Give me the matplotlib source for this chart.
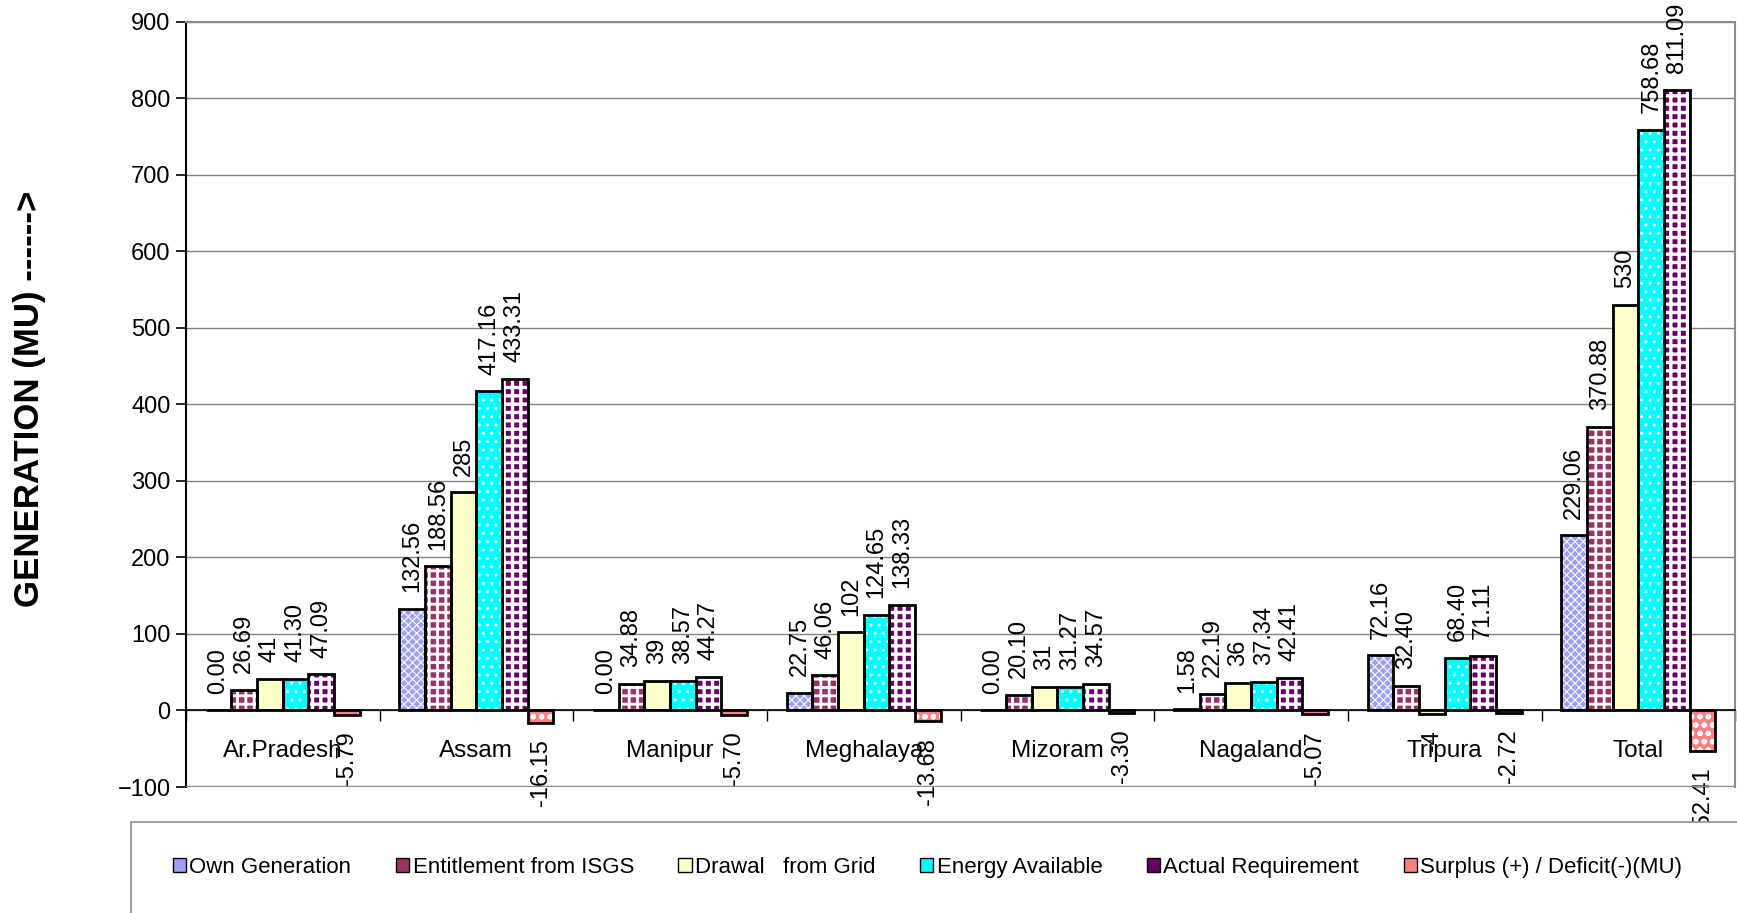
import numpy as np
import matplotlib.pyplot as plt
from matplotlib.patches import Patch, Rectangle

plt.rcParams['font.family'] = ['Liberation Sans', 'DejaVu Sans']

# =============================================
# Data (MU)
# =============================================
states = ['Ar.Pradesh', 'Assam', 'Manipur', 'Meghalaya', 'Mizoram', 'Nagaland', 'Tripura', 'Total']
own_gen = [0.00, 132.56, 0.00, 22.75, 0.00, 1.58, 72.16, 229.06]
entitlement = [26.69, 188.56, 34.88, 46.06, 20.10, 22.19, 32.40, 370.88]
drawal = [41, 285, 39, 102, 31, 36, -4, 530]
energy_avail = [41.30, 417.16, 38.57, 124.65, 31.27, 37.34, 68.40, 758.68]
actual_req = [47.09, 433.31, 44.27, 138.33, 34.57, 42.41, 71.11, 811.09]
surplus = [-5.79, -16.15, -5.70, -13.68, -3.30, -5.07, -2.72, -52.41]

series_names = ['Own Generation', 'Entitlement from ISGS', 'Drawal   from Grid',
                'Energy Available', 'Actual Requirement', 'Surplus (+) / Deficit(-)(MU)']
series_vals = [own_gen, entitlement, drawal, energy_avail, actual_req, surplus]
label_fmts = ['{:.2f}', '{:.2f}', '{:g}', '{:.2f}', '{:.2f}', '{:.2f}']

# face colour, hatch, hatch line width (white hatch)
styles = [('#9f9ff8', 'xxxx', 0.8),
          ('#993366', '++', 2.0),
          ('#ffffcc', None, 1.0),
          ('#00ffff', '..', 1.0),
          ('#660066', '++', 2.4),
          ('#ff8080', 'oo', 1.5)]

# =============================================
# Plot
# =============================================
fig = plt.figure(figsize=(17.37, 9.13), dpi=100)
ax = fig.add_axes([0.107, 0.138, 0.892, 0.838])

x = np.arange(len(states))
width = 1 / 7.55

for i, (vals, fmt) in enumerate(zip(series_vals, label_fmts)):
    face, hatch, hlw = styles[i]
    pos = x + (i - 2.5) * width
    with plt.rc_context({'hatch.linewidth': hlw}):
        ax.bar(pos, vals, width, color=face, hatch=hatch, edgecolor='white', linewidth=0, zorder=2)
    ax.bar(pos, vals, width, fill=False, edgecolor='black', linewidth=2, zorder=3)
    for px, v in zip(pos, vals):
        if v >= 0:
            ax.annotate(fmt.format(v), (px, v), xytext=(0, 12), textcoords='offset points',
                        rotation=90, ha='center', va='bottom', fontsize=17)
        else:
            ax.annotate(fmt.format(v), (px, v), xytext=(0, -12), textcoords='offset points',
                        rotation=90, ha='center', va='top', fontsize=17)

ax.set_xlim(-0.5, 7.5)
ax.set_ylim(-100, 900)
ax.set_yticks(np.arange(-100, 1000, 100))
ax.tick_params(axis='y', labelsize=17, length=7, width=1.2, pad=4)
ax.yaxis.grid(True, color='#808080', linewidth=1)
ax.set_axisbelow(True)

ax.set_xticks(np.arange(-0.5, 8, 1))
ax.set_xticks(x, states, minor=True)
ax.tick_params(axis='x', which='major', length=8, width=1, labelbottom=False)
ax.tick_params(axis='x', which='minor', length=0, pad=21, labelsize=17.5)

ax.spines['bottom'].set_position(('data', 0))
ax.spines['bottom'].set_color('black')
ax.spines['bottom'].set_linewidth(1.2)
ax.spines['left'].set_linewidth(1.5)
for side in ['top', 'right']:
    ax.spines[side].set_color('#8c8c8c')
    ax.spines[side].set_linewidth(1.5)
ax.axhline(-100, color='#8c8c8c', linewidth=2.5, zorder=4)

ax.set_ylabel('GENERATION (MU) ------>', fontsize=25, fontweight='bold')
ax.yaxis.set_label_coords(-0.09, 0.508)

# legend box
fig.add_artist(Rectangle((0.0754, -0.1), 1.0, 0.1997, transform=fig.transFigure,
                         facecolor='white', edgecolor='#8c8c8c', linewidth=1.2))
handles = [Patch(facecolor=s[0], edgecolor='black', linewidth=1) for s in styles]
fig.legend(handles, series_names, loc='center', bbox_to_anchor=(0.534, 0.05), ncol=6,
           frameon=False, fontsize=16, handlelength=0.6, handleheight=0.6,
           handletextpad=0.15, columnspacing=2.0)

plt.savefig('out.png', dpi=100)
